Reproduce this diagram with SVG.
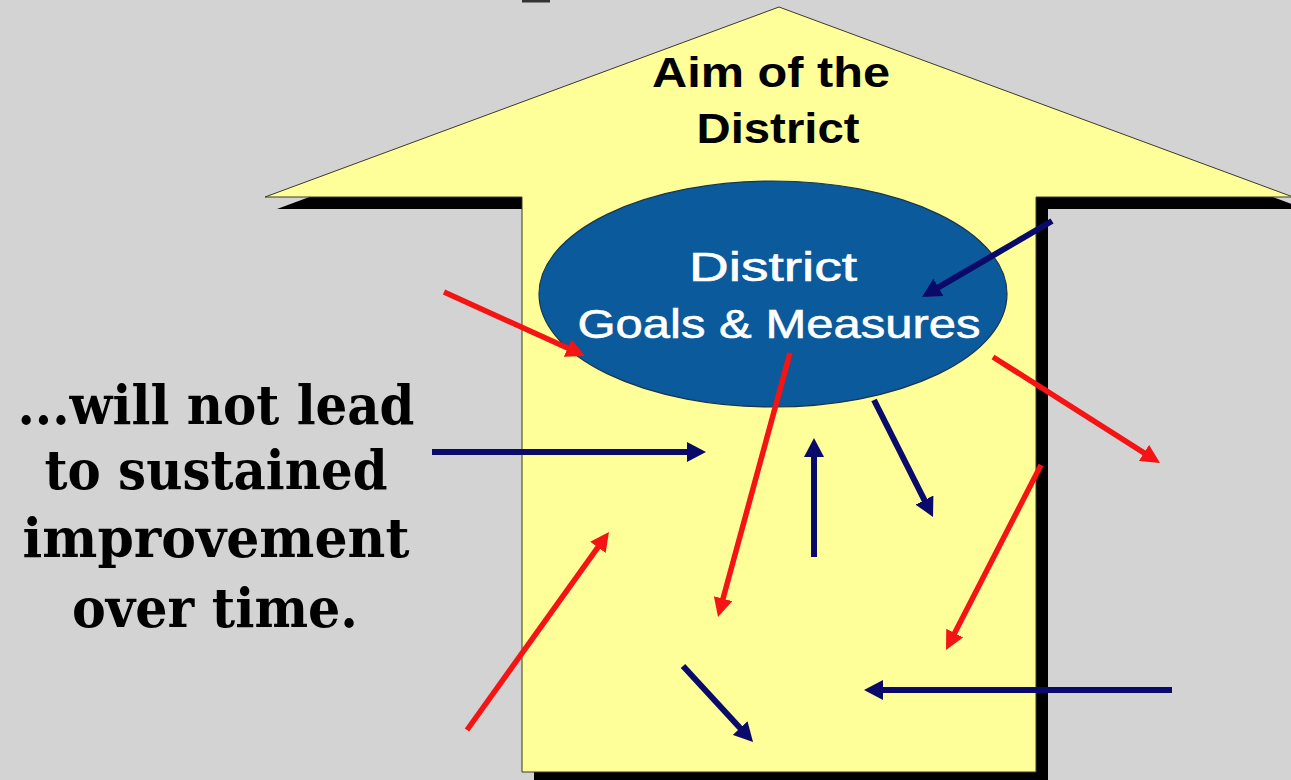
<svg xmlns="http://www.w3.org/2000/svg" width="1291" height="780" viewBox="0 0 1291 780">
  <style>
    .sans { font-family: "Liberation Sans", Arial, sans-serif; }
    .serif { font-family: "DejaVu Serif", "Liberation Serif", serif; font-weight: bold; fill: #000; }
    .red { stroke: #F41414; stroke-width: 5.5; fill: none; marker-end: url(#hr); }
    .navy { stroke: #0A0A6A; stroke-width: 6; fill: none; marker-end: url(#hn); }
  </style>
  <defs>
    <marker id="hr" markerUnits="userSpaceOnUse" markerWidth="19" markerHeight="19" refX="7" refY="9.5" orient="auto">
      <path d="M0,0 L19,9.5 L0,19 z" fill="#F41414"/>
    </marker>
    <marker id="hn" markerUnits="userSpaceOnUse" markerWidth="19" markerHeight="20" refX="7" refY="10" orient="auto">
      <path d="M0,0 L19,10 L0,20 z" fill="#0A0A6A"/>
    </marker>
  </defs>

  <rect x="0" y="0" width="1291" height="780" fill="#D3D3D3"/>
  <rect x="522" y="0" width="28" height="2.5" fill="#333"/>

  <g id="aim-arrow">
    <polygon points="791,19 1305,209 1048,209 1048,790 534,790 534,209 277,209" fill="#000"/>
    <polygon points="779,7 1293,197 1036,197 1036,772 522,772 522,197 265,197" fill="#FFFF99" stroke="#3a3a2a" stroke-width="1"/>
    <text class="sans" x="771" y="87" font-size="42" font-weight="bold" text-anchor="middle" textLength="238" lengthAdjust="spacingAndGlyphs" fill="#000">Aim of the</text>
    <text class="sans" x="778" y="143" font-size="42" font-weight="bold" text-anchor="middle" textLength="163" lengthAdjust="spacingAndGlyphs" fill="#000">District</text>
  </g>

  <g id="goals-ellipse">
    <ellipse cx="773" cy="294" rx="234" ry="113" fill="#0B5A9C" stroke="#1B3550" stroke-width="1.2"/>
    <text class="sans" x="773" y="281" font-size="40" text-anchor="middle" textLength="168" lengthAdjust="spacingAndGlyphs" fill="#FFFFFF" stroke="#FFFFFF" stroke-width="0.6">District</text>
    <text class="sans" x="779" y="338" font-size="40" text-anchor="middle" textLength="403" lengthAdjust="spacingAndGlyphs" fill="#FFFFFF" stroke="#FFFFFF" stroke-width="0.6">Goals &amp; Measures</text>
  </g>

  <g id="side-text">
    <text class="serif" x="216" y="424" font-size="54" text-anchor="middle" textLength="397" lengthAdjust="spacingAndGlyphs">...will not lead</text>
    <text class="serif" x="216" y="489" font-size="54" text-anchor="middle" textLength="343" lengthAdjust="spacingAndGlyphs">to sustained</text>
    <text class="serif" x="216" y="557" font-size="54" text-anchor="middle" textLength="387" lengthAdjust="spacingAndGlyphs">improvement</text>
    <text class="serif" x="215" y="627" font-size="54" text-anchor="middle" textLength="286" lengthAdjust="spacingAndGlyphs">over time.</text>
  </g>

  <g id="connectors">
    <line class="red" x1="444" y1="292" x2="574.1" y2="351.0"/>
    <line class="navy" x1="1052" y1="221" x2="932.4" y2="290.9"/>
    <line class="navy" x1="432" y1="452" x2="694" y2="452"/>
    <line class="red" x1="790" y1="353" x2="721.2" y2="605.4"/>
    <line class="navy" x1="814" y1="557" x2="814" y2="450"/>
    <line class="navy" x1="874" y1="400" x2="927.6" y2="506.3"/>
    <line class="red" x1="993" y1="357" x2="1149.9" y2="456.6"/>
    <line class="red" x1="1041" y1="465" x2="951.5" y2="639.3"/>
    <line class="red" x1="467" y1="730" x2="602.0" y2="541.7"/>
    <line class="navy" x1="683" y1="666" x2="744.9" y2="733.2"/>
    <line class="navy" x1="1172" y1="690" x2="876" y2="690"/>
  </g>
</svg>
